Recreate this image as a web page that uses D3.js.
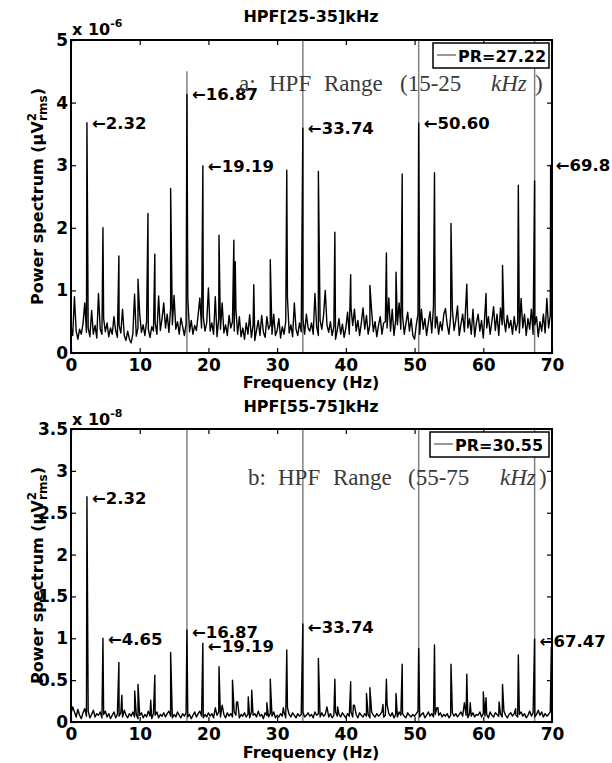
<!DOCTYPE html>
<html>
<head>
<meta charset="utf-8">
<script src="https://cdnjs.cloudflare.com/ajax/libs/d3/7.8.5/d3.min.js"></script>
<style>
body{margin:0;background:#fff;}
svg text{font-family:"DejaVu Sans",Arial,sans-serif;font-weight:bold;fill:#000;}
</style>
</head>
<body>
<svg id="chart" width="612" height="763"></svg>
<script>
// spectrum sampled every 0.25 Hz from 0 to 70 Hz, values in 1e-6 (a) and 1e-8 (b)
var freqStep = 0.25;
var xTicks = [0, 10, 20, 30, 40, 50, 60, 70];

// --- panel a: HPF[25-35]kHz ---
var noiseA = [
  0.42,0.28,0.90,0.35,0.22,0.38,0.30,0.47,0.80,0.33,0.40,0.26,0.68,0.30,0.44,0.24,0.95,0.38,0.30,0.55,
  0.34,0.48,0.26,0.40,0.30,0.58,0.36,0.25,0.44,0.32,0.70,0.28,0.20,0.35,0.22,0.16,0.30,0.94,0.27,0.40,
  0.62,0.33,0.45,0.28,0.50,0.38,0.25,0.42,0.35,0.48,0.30,0.91,0.36,0.55,0.80,0.40,0.62,0.33,0.72,0.45,
  0.92,0.38,0.50,0.30,0.56,0.42,0.28,0.46,0.87,0.34,0.52,0.30,0.44,0.36,0.60,0.88,0.40,0.58,0.35,0.48,
  1.04,0.35,0.48,0.30,0.90,0.26,0.55,0.38,0.80,0.32,0.45,0.28,0.60,0.40,0.50,0.35,0.70,0.30,0.58,0.26,
  0.40,0.22,0.48,0.30,0.61,0.25,0.44,0.20,0.36,0.52,0.28,0.60,0.33,0.25,0.58,0.38,0.45,0.30,0.62,0.28,
  0.36,0.55,0.24,0.42,0.30,0.50,0.88,0.32,0.45,0.26,0.80,0.38,0.28,0.48,0.34,0.55,0.30,0.62,0.40,0.35,
  0.48,0.30,0.95,0.42,0.28,0.52,0.38,0.60,1.00,0.45,0.33,0.50,0.28,0.42,0.22,0.36,0.55,0.30,0.46,0.25,
  0.40,0.65,0.30,0.72,0.44,0.70,0.35,0.52,0.28,0.48,0.72,0.38,0.60,0.30,0.46,0.67,0.34,0.50,0.26,0.44,
  0.58,0.30,0.48,0.50,0.40,0.88,0.35,0.70,0.28,0.52,0.45,0.80,0.38,0.60,0.30,0.48,0.65,0.35,0.55,0.28,
  0.22,0.45,0.62,0.30,0.70,0.38,0.55,0.28,0.48,0.66,0.32,0.74,0.40,0.58,0.30,0.50,0.36,0.62,0.71,0.45,
  0.30,0.58,0.69,0.36,0.52,0.75,0.28,0.46,0.62,0.34,0.88,0.40,0.55,0.30,0.70,0.26,0.48,0.62,0.35,0.52,
  0.24,0.66,0.40,0.58,0.30,0.50,0.74,0.36,0.62,0.28,0.72,0.45,0.55,0.34,0.60,0.40,0.52,0.30,0.58,0.36,
  0.48,0.32,0.87,0.40,0.62,0.28,0.55,0.38,0.70,0.30,0.45,0.58,0.26,0.50,0.35,0.62,0.32,0.87,0.40,0.60,
  0.55
];
var peakFreqA = [2.32,4.65,6.97,9.75,11.2,12.2,14.5,16.87,19.19,21.54,23.7,23.9,26.6,29.0,31.4,33.74,
  36.0,38.4,40.7,43.5,45.9,47.3,48.2,50.6,52.9,55.3,57.6,60.4,62.8,65.1,67.47,69.8];
var peakValA = [3.68,2.00,1.55,1.18,2.23,1.58,2.63,4.13,2.99,1.88,1.80,1.46,1.09,1.49,2.92,3.59,
  2.90,1.93,1.25,1.08,1.60,1.29,2.86,3.67,2.88,2.07,1.10,0.95,1.40,2.68,2.75,3.00];
var markerFreqs = [16.87, 33.74, 50.60, 67.47];
var markerValA = [4.5, 5, 5, 5];
var labelFreqA = [2.32, 16.87, 19.19, 33.74, 50.60, 69.8];
var labelValA = [3.68, 4.13, 2.99, 3.59, 3.67, 3.00];
var labelTextA = ["2.32", "16.87", "19.19", "33.74", "50.60", "69.8"];
var yTicksA = [0, 1, 2, 3, 4, 5];

// --- panel b: HPF[55-75]kHz ---
var noiseB = [
  0.10,0.18,0.12,0.06,0.15,0.08,0.04,0.11,0.16,0.07,0.13,0.05,0.09,0.14,0.06,0.10,0.08,0.12,0.05,0.09,
  0.13,0.06,0.10,0.04,0.08,0.12,0.05,0.09,0.07,0.11,0.06,0.14,0.08,0.05,0.10,0.07,0.12,0.06,0.09,0.04,
  0.08,0.11,0.05,0.09,0.06,0.13,0.07,0.04,0.10,0.08,0.12,0.05,0.09,0.07,0.11,0.06,0.10,0.13,0.07,0.05,
  0.09,0.06,0.12,0.08,0.05,0.10,0.07,0.11,0.06,0.09,0.04,0.08,0.12,0.06,0.10,0.13,0.07,0.05,0.09,0.06,
  0.11,0.07,0.10,0.05,0.17,0.08,0.12,0.06,0.20,0.09,0.05,0.11,0.07,0.10,0.06,0.12,0.08,0.24,0.05,0.09,
  0.07,0.11,0.06,0.09,0.05,0.12,0.08,0.10,0.06,0.13,0.07,0.09,0.04,0.11,0.08,0.06,0.10,0.07,0.12,0.05,
  0.08,0.06,0.10,0.07,0.12,0.05,0.17,0.09,0.06,0.11,0.08,0.05,0.10,0.07,0.09,0.12,0.06,0.08,0.11,0.07,
  0.09,0.05,0.12,0.08,0.10,0.06,0.11,0.07,0.09,0.18,0.06,0.10,0.05,0.08,0.12,0.07,0.09,0.06,0.11,0.08,
  0.05,0.10,0.07,0.12,0.06,0.20,0.09,0.05,0.11,0.08,0.06,0.10,0.07,0.09,0.05,0.12,0.08,0.06,0.10,0.07,
  0.09,0.12,0.06,0.08,0.21,0.10,0.07,0.11,0.05,0.09,0.06,0.12,0.08,0.10,0.07,0.05,0.11,0.08,0.06,0.09,
  0.07,0.10,0.13,0.06,0.09,0.11,0.05,0.08,0.12,0.07,0.10,0.06,0.09,0.17,0.08,0.11,0.06,0.09,0.07,0.10,
  0.05,0.08,0.11,0.07,0.10,0.06,0.09,0.12,0.07,0.23,0.08,0.05,0.10,0.07,0.11,0.06,0.09,0.08,0.12,0.06,
  0.10,0.07,0.09,0.05,0.12,0.08,0.06,0.11,0.09,0.07,0.10,0.06,0.13,0.08,0.05,0.09,0.11,0.07,0.10,0.08,
  0.06,0.09,0.12,0.07,0.10,0.05,0.08,0.13,0.07,0.11,0.06,0.09,0.14,0.08,0.12,0.06,0.10,0.07,0.09,0.12,
  0.10
];
var peakFreqB = [2.32,4.65,6.97,7.4,9.27,9.75,11.6,12.2,14.5,16.87,19.19,21.54,22.0,23.5,24.1,25.8,26.3,
  28.5,29.0,30.9,31.4,33.74,36.0,38.4,38.8,40.7,41.1,43.0,43.5,45.4,45.9,47.3,48.2,50.6,52.9,53.4,
  55.3,57.6,58.1,60.0,60.4,62.3,62.8,64.7,65.1,67.47,69.9];
var peakValB = [2.69,1.00,0.71,0.32,0.37,0.45,0.26,0.56,0.83,1.10,0.94,0.66,0.20,0.50,0.24,0.30,0.38,
  0.23,0.51,0.17,0.86,1.17,0.76,0.51,0.18,0.48,0.20,0.34,0.41,0.21,0.51,0.34,0.69,0.88,0.92,0.17,
  0.69,0.57,0.23,0.36,0.29,0.24,0.45,0.16,0.80,0.99,0.89];
var markerValB = [3.5, 3.5, 3.5, 3.5];
var labelFreqB = [2.32, 4.65, 16.87, 19.19, 33.74, 67.47];
var labelValB = [2.67, 0.99, 1.08, 0.91, 1.14, 0.97];
var labelTextB = ["2.32", "4.65", "16.87", "19.19", "33.74", "67.47"];
var yTicksB = [0, 0.5, 1, 1.5, 2, 2.5, 3, 3.5];

var svg = d3.select("#chart");

var panels = [
  {id: "a", top: 40, bottom: 353, ymax: 5, yTicks: yTicksA, noise: noiseA, peakF: peakFreqA, peakV: peakValA,
   markerV: markerValA, labF: labelFreqA, labV: labelValA, labT: labelTextA,
   title: "HPF[25-35]kHz", titleY: 22, xlabY: 388, expo: "-6", expY: 35,
   legend: "PR=27.22", legBox: [433, 43, 116, 25],
   note: ["a:", "HPF", "Range", "(15-25", "kHz", ")"], noteX: [239, 269, 324, 400, 491, 535], noteY: 91},
  {id: "b", top: 429, bottom: 722, ymax: 3.5, yTicks: yTicksB, noise: noiseB, peakF: peakFreqB, peakV: peakValB,
   markerV: markerValB, labF: labelFreqB, labV: labelValB, labT: labelTextB,
   title: "HPF[55-75]kHz", titleY: 412, xlabY: 758, expo: "-8", expY: 425,
   legend: "PR=30.55", legBox: [430, 432, 119, 25],
   note: ["b:", "HPF", "Range", "(55-75", "kHz", ")"], noteX: [248, 278, 333, 408, 500, 539], noteY: 485}
];

panels.forEach(function(p){
  var x = d3.scaleLinear().domain([0, 70]).range([71, 552]);
  var y = d3.scaleLinear().domain([0, p.ymax]).range([p.bottom, p.top]);
  var g = svg.append("g");

  g.append("clipPath").attr("id", "clip" + p.id)
    .append("rect").attr("x", 71).attr("y", p.top).attr("width", 481).attr("height", p.bottom - p.top);

  // merge the noise floor with the spectral peaks
  var pts = p.noise.map(function(v, i){ return [i * freqStep, v]; })
    .concat(p.peakF.map(function(f, i){ return [f, p.peakV[i]]; }))
    .sort(function(a, b){ return a[0] - b[0]; });

  var plot = g.append("g").attr("clip-path", "url(#clip" + p.id + ")");

  // gray harmonic markers
  plot.selectAll("line.mark").data(markerFreqs).enter().append("line")
    .attr("class", "mark")
    .attr("x1", function(d){ return x(d); }).attr("x2", function(d){ return x(d); })
    .attr("y1", y(0)).attr("y2", function(d, i){ return y(p.markerV[i]); })
    .attr("stroke", "#808080").attr("stroke-width", 1.5);

  var line = d3.line().x(function(d){ return x(d[0]); }).y(function(d){ return y(d[1]); });
  plot.append("path").datum(pts).attr("d", line)
    .attr("fill", "none").attr("stroke", "#000").attr("stroke-width", 1.4).attr("stroke-linejoin", "round");

  // axes, ticks pointing inwards
  g.append("g").attr("transform", "translate(0," + p.bottom + ")")
    .call(d3.axisBottom(x).tickValues(xTicks).tickSizeInner(-5).tickSizeOuter(0).tickPadding(6).tickFormat(d3.format("d")));
  g.append("g").attr("transform", "translate(71,0)")
    .call(d3.axisLeft(y).tickValues(p.yTicks).tickSizeInner(-5).tickSizeOuter(0).tickPadding(3).tickFormat(function(d){ return String(d); }));
  g.append("g").attr("transform", "translate(0," + p.top + ")")
    .call(d3.axisTop(x).tickValues(xTicks).tickSizeInner(-5).tickSizeOuter(0).tickFormat(""));
  g.append("g").attr("transform", "translate(552,0)")
    .call(d3.axisRight(y).tickValues(p.yTicks).tickSizeInner(-5).tickSizeOuter(0).tickFormat(""));
  g.selectAll(".domain").remove();
  g.selectAll(".tick line").attr("stroke", "#000").attr("stroke-width", 1.2);
  g.selectAll(".tick text").attr("font-size", 17);

  g.append("rect").attr("x", 71).attr("y", p.top).attr("width", 481).attr("height", p.bottom - p.top)
    .attr("fill", "none").attr("stroke", "#000").attr("stroke-width", 2);

  // peak labels
  g.selectAll("text.lab").data(p.labT).enter().append("text")
    .attr("class", "lab")
    .attr("x", function(d, i){ return x(p.labF[i]) + 5; })
    .attr("y", function(d, i){ return y(p.labV[i]); })
    .attr("dy", "0.36em").attr("font-size", 16.5)
    .text(function(d){ return "\u2190" + d; });

  // exponent
  var ex = g.append("text").attr("x", 72).attr("y", p.expY).attr("font-size", 16).text("x 10");
  ex.append("tspan").attr("font-size", 11).attr("dy", -8).text(p.expo);

  // titles
  g.append("text").attr("x", 311).attr("y", p.titleY).attr("text-anchor", "middle").attr("font-size", 16).text(p.title);
  g.append("text").attr("x", 311).attr("y", p.xlabY).attr("text-anchor", "middle").attr("font-size", 16).text("Frequency (Hz)");

  var yl = g.append("text").attr("transform", "translate(43," + ((p.top + p.bottom) / 2) + ") rotate(-90)")
    .attr("text-anchor", "middle").attr("font-size", 16);
  yl.append("tspan").text("Power spectrum (\u03bcV");
  yl.append("tspan").attr("font-size", 12).attr("dy", -7).text("2");
  yl.append("tspan").attr("font-size", 12).attr("dx", -8).attr("dy", 11).text("rms");
  yl.append("tspan").attr("dy", -4).text(")");

  // legend
  var b = p.legBox;
  g.append("rect").attr("x", b[0]).attr("y", b[1]).attr("width", b[2]).attr("height", b[3])
    .attr("fill", "#fff").attr("stroke", "#000").attr("stroke-width", 1.5);
  g.append("line").attr("x1", b[0] + 4).attr("x2", b[0] + 23).attr("y1", b[1] + 12).attr("y2", b[1] + 12)
    .attr("stroke", "#333").attr("stroke-width", 1);
  g.append("text").attr("x", b[0] + 25).attr("y", b[1] + 19).attr("font-size", 16).text(p.legend);

  // serif note
  var nt = g.append("text").attr("y", p.noteY)
    .style("font-family", "'Liberation Serif','Times New Roman',serif").style("font-weight", "normal")
    .style("fill", "#3a3a3a").attr("font-size", 23);
  p.note.forEach(function(s, i){
    var t = nt.append("tspan").attr("x", p.noteX[i]).text(s);
    if (s == "kHz") t.style("font-style", "italic");
  });
});
</script>
</body>
</html>
